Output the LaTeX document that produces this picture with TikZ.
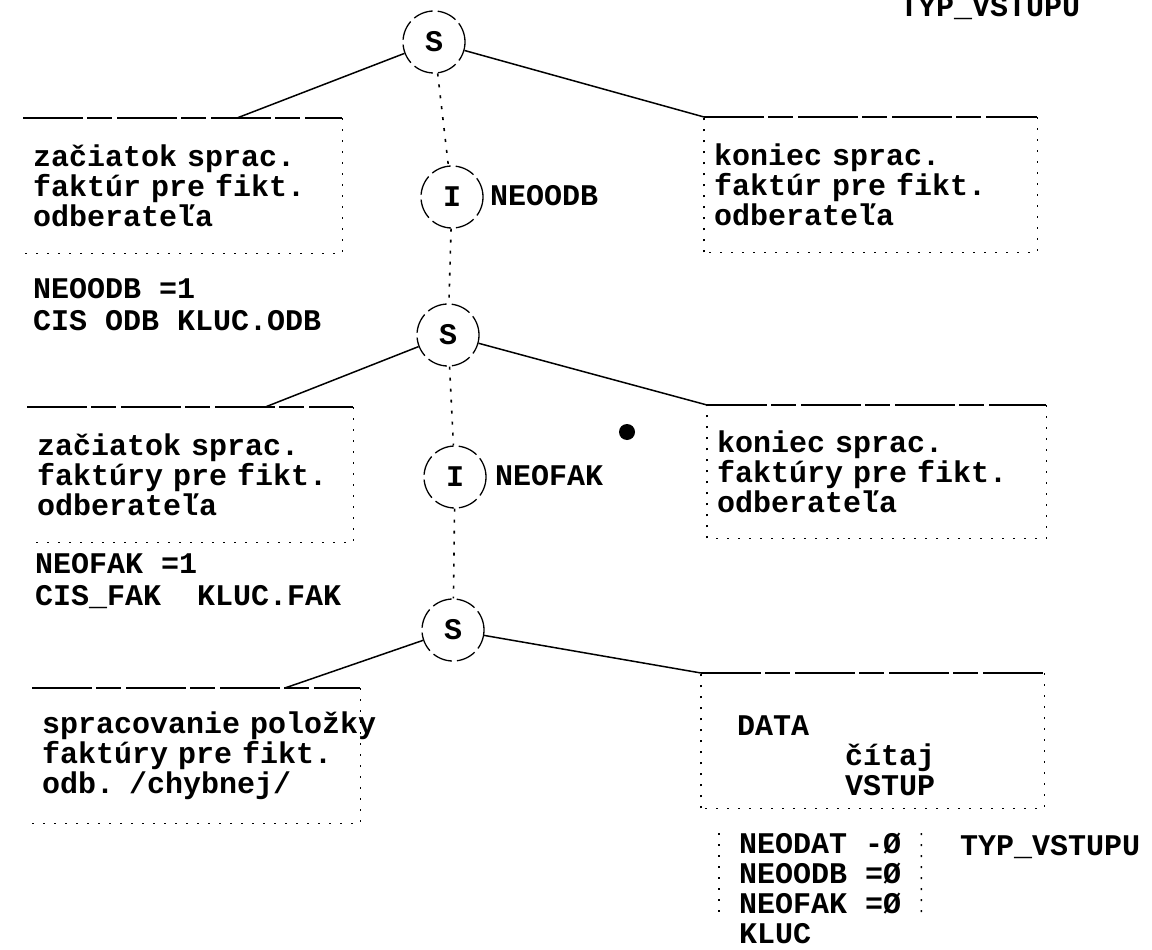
\documentclass[tikz,border=0pt]{standalone}
\usepackage{fontspec}
\newfontfamily\tw{Liberation Mono}
\usetikzlibrary{calc}
\tikzset{
  jtext/.style={font=\tw\bfseries\fontsize{30}{30}\selectfont, inner sep=0pt},
  procbox/.style={jtext, rectangle, anchor=north west, align=left,
                  inner xsep=10pt, inner ysep=0pt, minimum height=135pt},
  ctrlcirc/.style={jtext, circle, draw, line width=1.3pt,
                   dash pattern=on 20pt off 5pt, minimum size=62pt},
  treeline/.style={line width=1.5pt},
  boxtop/.style={line width=1.4pt, dash pattern=on 60pt off 4pt on 25pt off 5pt},
  boxrest/.style={line width=1.4pt, dash pattern=on 2pt off 9pt},
  flowdots/.style={line width=1.6pt, dash pattern=on 3pt off 8pt},
  freetext/.style={jtext, align=left, anchor=north west},
  settext/.style={freetext, font=\tw\bfseries\fontsize{30}{32}\selectfont},
  dotnode/.style={circle, fill, inner sep=0pt, minimum size=16pt},
}

\begin{document}
\begin{tikzpicture}[x=1pt, y=-1pt]
  \useasboundingbox (0,0) rectangle (1152,950);

  % S / I circles down the middle
  \node[ctrlcirc] (s1) at (434,42) {S};
  \node[ctrlcirc] (i1) at (452,197) {I};
  \node[ctrlcirc] (s2) at (448,335) {S};
  \node[ctrlcirc] (i2) at (455,477) {I};
  \node[ctrlcirc] (s3) at (453,630) {S};

  % process boxes
  \node[procbox, text width=299pt] (b1) at (23,118) {začiatok sprac.\\faktúr pre fikt.\\odberateľa};
  \node[procbox, text width=313pt] (b2) at (704,117) {koniec sprac.\\faktúr pre fikt.\\odberateľa};
  \node[procbox, text width=306pt] (b3) at (27,407) {začiatok sprac.\\faktúry pre fikt.\\odberateľa};
  \node[procbox, text width=319pt, minimum height=133pt] (b4) at (707,405) {koniec sprac.\\faktúry pre fikt.\\odberateľa};
  \node[procbox, text width=308pt] (b5) at (32,688) {spracovanie~položky\\faktúry pre fikt.\\odb. /chybnej/};
  \node[procbox, inner xsep=36pt, text width=271pt] (b6) at (701,673) {\rule{0pt}{50pt}DATA\\\hspace*{3.6em}čítaj\\\hspace*{3.6em}VSTUP};

  % free texts
  \node[jtext, anchor=base west] (typtop) at (900,17) {TYP\_VSTUPU};
  \node[jtext, anchor=base west] (lodb) at (490,205) {NEOODB};
  \node[jtext, anchor=base west] (lfak) at (495,485) {NEOFAK};
  \node[settext] (odbset) at (33,278) {NEOODB =1\\CIS ODB KLUC.ODB};
  \node[settext] (fakset) at (35,553) {NEOFAK =1\\CIS\_FAK~~KLUC.FAK};
  \node[freetext, inner xsep=20pt] (cond) at (719,833) {NEODAT -Ø\\NEOODB =Ø\\NEOFAK =Ø\\KLUC};
  \node[jtext, anchor=base west] (typbot) at (960,855) {TYP\_VSTUPU};
  \node[dotnode] (dot) at (627,432) {};

  % tree lines
  \draw[treeline] (s1) -- ($(b1.north west)!0.67!(b1.north east)$);
  \draw[treeline] (s1) -- (b2.north west);
  \draw[treeline] (s2) -- ($(b3.north west)!0.73!(b3.north east)$);
  \draw[treeline] (s2) -- (b4.north west);
  \draw[treeline] (s3) -- ($(b5.north west)!0.77!(b5.north east)$);
  \draw[treeline] (s3) -- (b6.north west);

  \foreach \a/\b in {s1/i1, i1/s2, s2/i2, i2/s3} {
    \draw[flowdots] (\a) -- (\b);
  }

  % box edges
  \foreach \b in {b1,b2,b3,b4,b5,b6} {
    \draw[boxtop] (\b.north west) -- (\b.north east);
    \draw[boxrest] (\b.north east) -- (\b.south east) -- (\b.south west);
  }
  \foreach \b in {b2,b4,b6} {
    \draw[boxrest] (\b.south west) -- (\b.north west);
  }
  \draw[boxrest] (cond.north west) -- ($(cond.north west)!0.78!(cond.south west)$);
  \draw[boxrest] (cond.north east) -- ($(cond.north east)!0.78!(cond.south east)$);
\end{tikzpicture}
\end{document}
